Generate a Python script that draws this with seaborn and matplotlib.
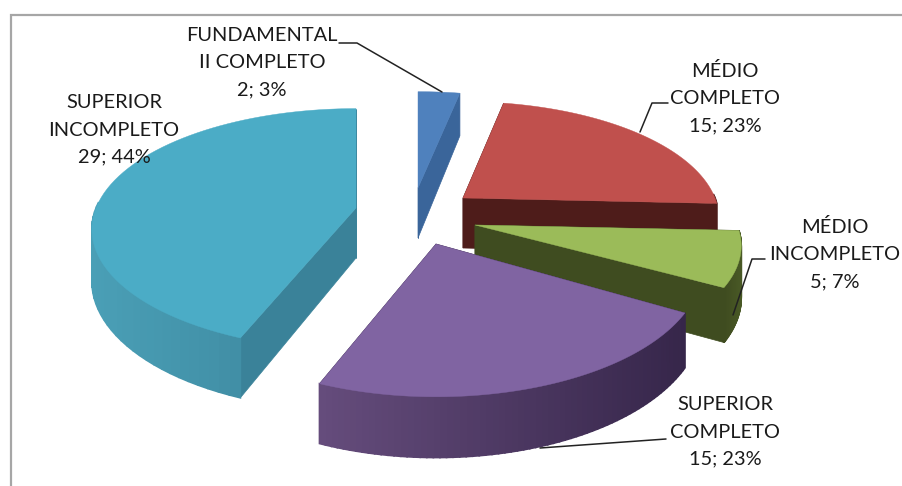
import numpy as np
import matplotlib
matplotlib.use("Agg")
import matplotlib.pyplot as plt
import seaborn as sns

categories = ["FUNDAMENTAL\nII COMPLETO", "MÉDIO\nCOMPLETO", "MÉDIO\nINCOMPLETO",
              "SUPERIOR\nCOMPLETO", "SUPERIOR\nINCOMPLETO"]
values = [2, 15, 5, 15, 29]
percents = [3, 23, 7, 23, 44]

top_colors = ["#4f81bd", "#c0504d", "#9bbb59", "#8064a2", "#4bacc6"]
face_colors = ["#3a659a", "#4e1c1a", "#3f4c20", "#39294a", "#3a8299"]
rim_left = ["#3a659a", "#4e1c1a", "#3f4c20", "#654c7c", "#4a9fb6"]
rim_right = ["#3a659a", "#4e1c1a", "#4a5a26", "#36264a", "#3a8299"]

# layout of each exploded slice: apex position, radius and flattening, in pixels
apex_x = [418, 463, 475, 436, 356]
apex_y = [188, 198, 225, 244, 208]
radius = [260, 252, 262, 262, 260]
squash = [0.436, 0.45, 0.436, 0.48, 0.45]
label_xy = [(262, 63), (725, 98), (835, 254), (725, 432), (114, 130)]
leaders = [[(339, 43), (357, 43), (442, 92)],
           [(668, 103), (652, 103), (640, 132)],
           [(765, 259), (752, 259), (733, 315)],
           [(666, 439), (540, 448)]]

PERSP, DEPTH = 0.177, 50

sns.set_theme(style="white")
plt.rcParams["font.family"] = ["Lato", "DejaVu Sans"]
fig = plt.figure(figsize=(9.02, 4.86), dpi=100)
ax = fig.add_axes([0, 0, 1, 1])
ax.set_xlim(0, 902)
ax.set_ylim(486, 0)
ax.axis("off")

# chart frame
ax.plot([10.5, 10.5, 902], [486, 15, 15], color="#a6a6a6", lw=1.6, zorder=1,
        solid_joinstyle="miter")


def rim(i, theta):
    s = 1 / (1 + PERSP * np.cos(theta))
    x = apex_x[i] + radius[i] * np.sin(theta) * s
    y = apex_y[i] - radius[i] * squash[i] * np.cos(theta) * s
    return x, y, DEPTH * s


edges = 2 * np.pi * np.concatenate([[0], np.cumsum(values)]) / sum(values)
z = 2
for i in range(len(values)):
    th = np.linspace(edges[i], edges[i + 1], 70)
    x, y, d = rim(i, th)
    ax0, ay0 = apex_x[i], apex_y[i]
    # radial walls
    for k in (0, -1):
        ax.fill([ax0, x[k], x[k], ax0], [ay0, y[k], y[k] + d[k], ay0 + DEPTH],
                color=face_colors[i], lw=0.5, zorder=z)
    # outer wall, shaded from left to right
    c0 = np.array(matplotlib.colors.to_rgb(rim_left[i]))
    c1 = np.array(matplotlib.colors.to_rgb(rim_right[i]))
    xr = x.max() - x.min()
    for j in range(len(th) - 1):
        if np.cos(th[j]) < 0.02 or np.cos(th[j + 1]) < 0.02:
            t = (0.5 * (x[j] + x[j + 1]) - x.min()) / xr
            ax.fill([x[j], x[j + 1], x[j + 1], x[j]],
                    [y[j], y[j + 1], y[j + 1] + d[j + 1], y[j] + d[j]],
                    color=tuple(c0 + (c1 - c0) * t), lw=1.2, zorder=z)
    # top face
    ax.fill(np.r_[ax0, x], np.r_[ay0, y], color=top_colors[i], lw=0.3, zorder=z)
    z += 1

for pts in leaders:
    px, py = zip(*pts)
    ax.plot(px, py, color="#222222", lw=1.1, zorder=20)

for name, v, p, (lx, ly) in zip(categories, values, percents, label_xy):
    ax.text(lx, ly, f"{name}\n{v}; {p}%", ha="center", va="center", fontsize=14.4,
            color="#1a1a1a", linespacing=1.72, zorder=21)

fig.savefig("out.png", dpi=100)
